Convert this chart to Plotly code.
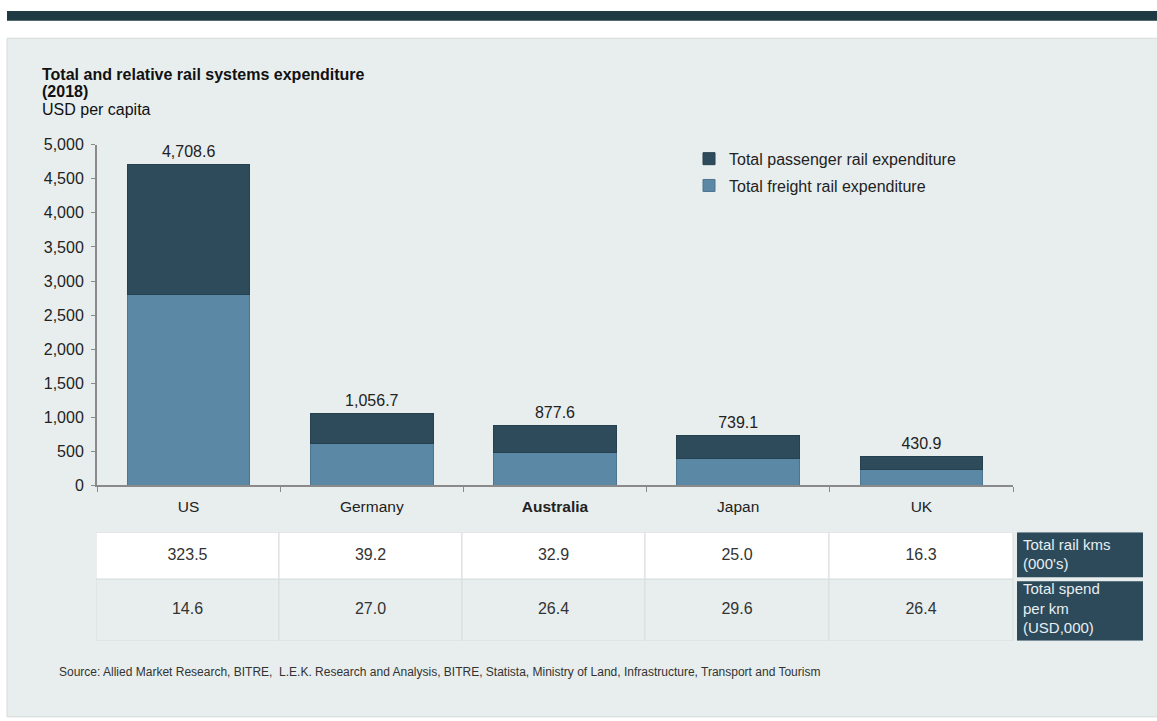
import plotly.graph_objects as go

W, H = 1157, 721

countries = ["US", "Germany", "Australia", "Japan", "UK"]
tick_labels = ["US", "Germany", "<b>Australia</b>", "Japan", "UK"]
freight = [2795.0, 610.0, 490.0, 400.0, 235.0]
totals = [4708.6, 1056.7, 877.6, 739.1, 430.9]
passenger = [t - f for t, f in zip(totals, freight)]
rail_kms = [323.5, 39.2, 32.9, 25.0, 16.3]
spend_per_km = [14.6, 27.0, 26.4, 29.6, 26.4]
row_labels = ["Total rail kms<br>(000's)", "Total spend<br>per km<br>(USD,000)"]
source = ("Source: Allied Market Research, BITRE,  L.E.K. Research and Analysis, BITRE, "
          "Statista, Ministry of Land, Infrastructure, Transport and Tourism")

PANEL = "#e8eeee"
DARK = "#2e4b5b"
LIGHT = "#5b88a5"
LABEL_BG = "#2c4a5a"
AXIS = "#8a8a8a"
FONT = "Liberation Sans, Arial, sans-serif"

def px(x):
    return x / W

def py(y):
    return 1 - y / H

fig = go.Figure()

fig.add_trace(go.Bar(x=countries, y=freight, name="Total freight rail expenditure",
                     legendgroup="f", legendrank=2,
                     marker=dict(color=LIGHT, line=dict(color="#4d7590", width=1))))
fig.add_trace(go.Bar(x=countries, y=passenger, name="Total passenger rail expenditure",
                     legendgroup="p", legendrank=1,
                     marker=dict(color=DARK, line=dict(color="#27404d", width=1))))
fig.add_trace(go.Scatter(x=countries, y=totals, mode="markers+text",
                         marker=dict(size=4, opacity=0),
                         text=[f"{v:,.1f}" for v in totals], textposition="top center",
                         textfont=dict(size=16, color="#222", family=FONT),
                         showlegend=False, hoverinfo="skip", cliponaxis=False))

# ---- table on its own pixel-unit axes ----
tbl_x0, tbl_x1 = 96, 1143
tbl_y0, tbl_y1 = 537, 648
col_w = [183, 183, 183, 184, 184]
gap_w = 4
row_h = [48, 63]

col_edges = [0]
for w in col_w:
    col_edges.append(col_edges[-1] + w)
lab_x0 = col_edges[-1] + gap_w
lab_x1 = tbl_x1 - tbl_x0
row_edges = [0, row_h[0], row_h[0] + row_h[1]]
col_centers = [(col_edges[i] + col_edges[i + 1]) / 2 for i in range(len(col_w))]
row_centers = [(row_edges[i] + row_edges[i + 1]) / 2 for i in range(2)]

shapes = []
shapes.append(dict(type="rect", xref="paper", yref="paper", x0=px(7), x1=px(W + 5),
                   y0=py(31), y1=py(H + 5), fillcolor=PANEL,
                   line=dict(color="#d6dada", width=1), layer="below"))
shapes.append(dict(type="rect", xref="paper", yref="paper", x0=px(7), x1=px(W + 5),
                   y0=py(3), y1=py(13), fillcolor="#1f3a42", line=dict(width=0), layer="below"))

row_fills = ["#ffffff", PANEL]
for r in range(2):
    for c in range(len(col_w)):
        shapes.append(dict(type="rect", xref="x2", yref="y2",
                           x0=col_edges[c], x1=col_edges[c + 1],
                           y0=row_edges[r], y1=row_edges[r + 1],
                           fillcolor=row_fills[r], line=dict(color="#d8dddd", width=1),
                           layer="below"))
    shapes.append(dict(type="rect", xref="x2", yref="y2",
                       x0=lab_x0, x1=lab_x1,
                       y0=row_edges[r] + (0 if r == 0 else 2),
                       y1=row_edges[r + 1] - (2 if r == 0 else 0),
                       fillcolor=LABEL_BG, line=dict(width=0), layer="below"))

table_rows = [rail_kms, spend_per_km]
for r, vals in enumerate(table_rows):
    fig.add_trace(go.Scatter(x=col_centers, y=[row_centers[r]] * len(vals), mode="text",
                             text=[f"{v:.1f}" for v in vals], textposition="middle center",
                             textfont=dict(size=16, color="#333", family=FONT),
                             xaxis="x2", yaxis="y2", showlegend=False, hoverinfo="skip",
                             cliponaxis=False))
fig.add_trace(go.Scatter(x=[lab_x0 + 6] * 2, y=row_centers, mode="text",
                         text=row_labels, textposition="middle right",
                         textfont=dict(size=15, color="#e8eef2", family=FONT),
                         xaxis="x2", yaxis="y2", showlegend=False, hoverinfo="skip",
                         cliponaxis=False))

annotations = [
    dict(text="<b>Total and relative rail systems expenditure</b>", x=px(40), y=py(68)),
    dict(text="<b>(2018)</b>", x=px(40), y=py(86)),
    dict(text="USD per capita", x=px(40), y=py(104)),
]
for a in annotations:
    a.update(xref="paper", yref="paper", xanchor="left", yanchor="middle", showarrow=False,
             font=dict(size=16, color="#111", family=FONT))
annotations.append(dict(text=source, xref="paper", yref="paper", x=px(57), y=py(680),
                        xanchor="left", yanchor="middle", showarrow=False,
                        font=dict(size=12, color="#333", family=FONT)))

fig.update_layout(
    width=W, height=H, margin=dict(l=0, r=0, t=0, b=0),
    paper_bgcolor="white", plot_bgcolor="rgba(0,0,0,0)",
    barmode="stack", bargap=0.33,
    font=dict(family=FONT, color="#222"),
    separators=".,",
    showlegend=True,
    legend=dict(x=px(689), y=py(137), xanchor="left", yanchor="top",
                traceorder="grouped", bgcolor="rgba(0,0,0,0)",
                font=dict(size=16, color="#222", family=FONT), tracegroupgap=3,
                itemwidth=30),
    xaxis=dict(domain=[px(97), px(1013)], range=[-0.5, 4.5], type="category",
               tickmode="array", tickvals=countries, ticktext=tick_labels,
               showline=True, linecolor=AXIS, linewidth=2,
               ticks="outside", tickson="boundaries", ticklen=5, tickcolor=AXIS,
               tickfont=dict(size=15.5, color="#222"), ticklabelstandoff=6,
               showgrid=False, zeroline=False, anchor="y", fixedrange=True),
    yaxis=dict(domain=[py(489), py(140)], range=[0, 5000], dtick=500, tickformat=",",
               showline=True, linecolor=AXIS, linewidth=2,
               ticks="outside", ticklen=4, tickcolor=AXIS,
               tickfont=dict(size=16, color="#222"), ticklabelstandoff=4,
               showgrid=False, zeroline=False, anchor="x"),
    xaxis2=dict(domain=[px(tbl_x0), px(tbl_x1)], range=[0, tbl_x1 - tbl_x0],
                visible=False, anchor="y2", showgrid=False, zeroline=False),
    yaxis2=dict(domain=[py(tbl_y1), py(tbl_y0)], range=[row_edges[-1], 0],
                visible=False, anchor="x2", showgrid=False, zeroline=False),
    shapes=shapes,
    annotations=annotations,
)

fig.write_html("out.html")
